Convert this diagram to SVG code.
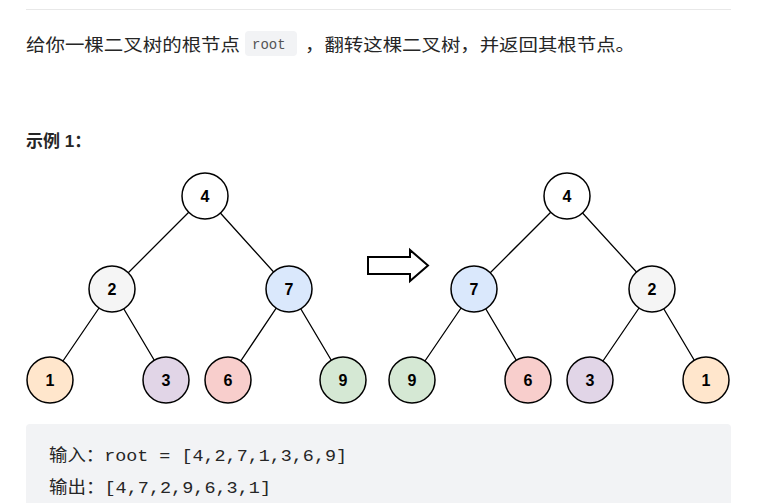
<svg xmlns="http://www.w3.org/2000/svg" width="761" height="503" viewBox="0 0 761 503">
<style>
.n{stroke:#000;stroke-width:1.5}
.t{font-family:"Liberation Sans",sans-serif;font-weight:bold;font-size:16px;text-anchor:middle;fill:#000}
.e{stroke:#000;stroke-width:1.3;fill:none}
.cj{font-family:"Noto Sans CJK SC",sans-serif;font-size:17px;fill:#262626}
.m{font-family:"Liberation Mono","Noto Sans CJK SC",monospace;font-size:17px;fill:#262626}
</style>
<rect width="761" height="503" fill="#fff"/>
<line x1="26" y1="9.5" x2="731" y2="9.5" stroke="#e8e8e8"/>
<text x="26" y="51" class="cj" textLength="214" lengthAdjust="spacingAndGlyphs">给你一棵二叉树的根节点</text>
<rect x="245" y="31" width="52" height="25" rx="4" fill="#f2f3f5"/>
<text x="252" y="49" font-family="Liberation Mono,monospace" font-size="14" fill="#555">root</text>
<text x="305" y="51" class="cj" textLength="330" lengthAdjust="spacingAndGlyphs">，翻转这棵二叉树，并返回其根节点。</text>
<text x="26" y="147" font-family="Liberation Sans,'Noto Sans CJK SC',sans-serif" font-weight="bold" font-size="17" fill="#262626">示例 1：</text>
<g id="connectors">
<path class="e" d="M205 196L112 289M205 196L289 289M112 289L50 380M112 289L166 380M289 289L228 380M289 289L343 380"/>
<path class="e" d="M567 196L474 289M567 196L652 289M474 289L412 380M474 289L528 380M652 289L590 380M652 289L706 380"/>
</g>
<g id="arrow"><path d="M368 257H410V250L428 265.5L410 281V274H368Z" fill="#fff" stroke="#000" stroke-width="2"/></g>
<g id="L4"><circle class="n" cx="205" cy="196" r="23" fill="#fff"/><text class="t" x="205" y="202">4</text></g>
<g id="L2"><circle class="n" cx="112" cy="289" r="23" fill="#f5f5f5"/><text class="t" x="112" y="295" fill="#333">2</text></g>
<g id="L7"><circle class="n" cx="289" cy="289" r="23" fill="#dae8fc"/><text class="t" x="289" y="295">7</text></g>
<g id="L1"><circle class="n" cx="50" cy="380" r="23" fill="#ffe6cc"/><text class="t" x="50" y="386">1</text></g>
<g id="L3"><circle class="n" cx="166" cy="380" r="23" fill="#e1d5e7"/><text class="t" x="166" y="386">3</text></g>
<g id="L6"><circle class="n" cx="228" cy="380" r="23" fill="#f8cecc"/><text class="t" x="228" y="386">6</text></g>
<g id="L9"><circle class="n" cx="343" cy="380" r="23" fill="#d5e8d4"/><text class="t" x="343" y="386">9</text></g>
<g id="R4"><circle class="n" cx="567" cy="196" r="23" fill="#fff"/><text class="t" x="567" y="202">4</text></g>
<g id="R7"><circle class="n" cx="474" cy="289" r="23" fill="#dae8fc"/><text class="t" x="474" y="295">7</text></g>
<g id="R2"><circle class="n" cx="652" cy="289" r="23" fill="#f5f5f5"/><text class="t" x="652" y="295" fill="#333">2</text></g>
<g id="R9"><circle class="n" cx="412" cy="380" r="23" fill="#d5e8d4"/><text class="t" x="412" y="386">9</text></g>
<g id="R6"><circle class="n" cx="528" cy="380" r="23" fill="#f8cecc"/><text class="t" x="528" y="386">6</text></g>
<g id="R3"><circle class="n" cx="590" cy="380" r="23" fill="#e1d5e7"/><text class="t" x="590" y="386">3</text></g>
<g id="R1"><circle class="n" cx="706" cy="380" r="23" fill="#ffe6cc"/><text class="t" x="706" y="386">1</text></g>
<rect x="26" y="424" width="705" height="90" rx="4" fill="#f2f3f5"/>
<text x="49" y="461" class="m" textLength="298" lengthAdjust="spacingAndGlyphs">输入：root = [4,2,7,1,3,6,9]</text>
<text x="49" y="493" class="m" textLength="222" lengthAdjust="spacingAndGlyphs">输出：[4,7,2,9,6,3,1]</text>
</svg>
